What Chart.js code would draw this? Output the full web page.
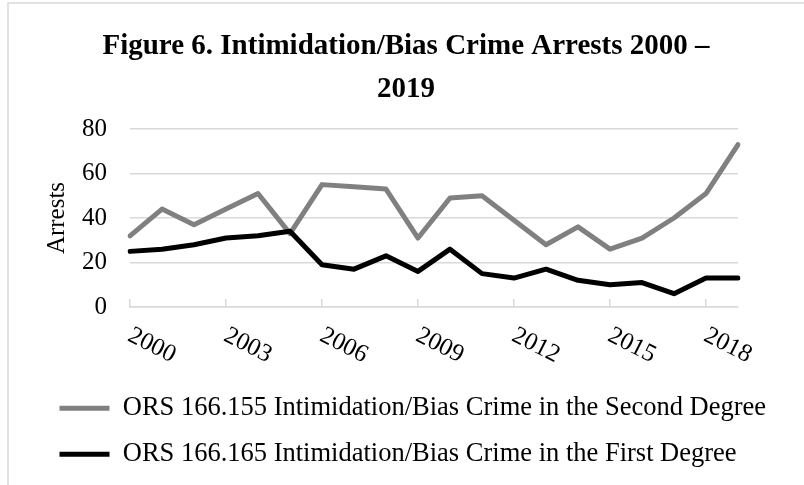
<!DOCTYPE html>
<html>
<head>
<meta charset="utf-8">
<script src="https://cdn.jsdelivr.net/npm/chart.js@4/dist/chart.umd.min.js"></script>
<style>
  body { margin: 0; background: #fff; }
</style>
</head>
<body>
<canvas id="chart" width="804" height="485"></canvas>
<script>
const years = ['2000','2001','2002','2003','2004','2005','2006','2007','2008','2009',
               '2010','2011','2012','2013','2014','2015','2016','2017','2018','2019']
const secondDegree = [32,44,37,44,51,33,55,54,53,31,49,50,39,28,36,26,31,40,51,73]
const firstDegree = [25,26,28,31,32,34,19,17,23,16,26,15,13,17,12,10,11,6,13,13]
const yTicks = [0, 20, 40, 60, 80]

const serif = "'Liberation Serif', 'Times New Roman', serif"
Chart.defaults.color = '#000'
Chart.defaults.font.family = serif

// frame + rotated year labels
const extras = {
  id: 'extras',
  beforeDraw(chart) {
    const ctx = chart.ctx
    ctx.save()
    ctx.fillStyle = '#fff'
    ctx.fillRect(0, 0, chart.width, chart.height)
    ctx.strokeStyle = '#d9d9d9'
    ctx.lineWidth = 1.5
    ctx.beginPath()
    ctx.moveTo(8, chart.height)
    ctx.lineTo(8, 3)
    ctx.lineTo(chart.width, 3)
    ctx.stroke()
    ctx.restore()
  },
  afterDraw(chart) {
    const ctx = chart.ctx
    const xs = chart.scales.x
    ctx.save()
    ctx.font = '25px ' + serif
    ctx.fillStyle = '#000'
    ctx.textAlign = 'left'
    ctx.textBaseline = 'alphabetic'
    years.forEach((y, i) => {
      if (i % 3) return
      const px = xs.getPixelForValue(i)
      ctx.save()
      ctx.translate(px - 3.5, chart.chartArea.bottom + 33)
      ctx.rotate(27 * Math.PI / 180)
      ctx.fillText(y, 0, 0)
      ctx.restore()
    })
    ctx.restore()
  }
}

new Chart(document.getElementById('chart'), {
  type: 'line',
  data: {
    labels: years,
    datasets: [
      {
        label: 'ORS 166.155 Intimidation/Bias Crime in the Second Degree',
        data: secondDegree,
        borderColor: '#808080',
        backgroundColor: '#808080',
        borderWidth: 5,
        order: 1
      },
      {
        label: 'ORS 166.165 Intimidation/Bias Crime in the First Degree',
        data: firstDegree,
        borderColor: '#000',
        backgroundColor: '#000',
        borderWidth: 5,
        order: 0
      }
    ]
  },
  options: {
    responsive: false,
    animation: false,
    layout: { padding: { left: 40, right: 32, top: 0, bottom: 7.5 } },
    elements: {
      point: { radius: 0, hoverRadius: 0 },
      line: { tension: 0, borderJoinStyle: 'round', borderCapStyle: 'round' }
    },
    scales: {
      x: {
        grid: {
          drawOnChartArea: false,
          drawTicks: true,
          tickLength: -8,
          lineWidth: 1.5,
          color: (c) => (c.index % 3 === 0 ? '#d9d9d9' : 'rgba(0,0,0,0)')
        },
        border: { display: true, color: '#d9d9d9', width: 1.5 },
        ticks: { display: false, autoSkip: false },
        afterFit(s) { s.height = 68.5 }
      },
      y: {
        min: 0,
        max: 80,
        afterBuildTicks(s) { s.ticks = yTicks.map(v => ({ value: v })) },
        grid: { color: '#d9d9d9', lineWidth: 1.5, drawTicks: false },
        border: { display: false },
        ticks: { padding: 23, font: { size: 25, family: serif }, color: '#000' },
        title: {
          display: true,
          text: 'Arrests',
          font: { size: 25, family: serif },
          color: '#000',
          padding: { top: 2, bottom: 0 }
        },
        afterFit(s) { s.width = 90 }
      },
      yRight: {
        position: 'right',
        grid: { display: false },
        border: { display: false },
        ticks: { display: false },
        afterFit(s) { s.width = 34 }
      }
    },
    plugins: {
      title: {
        display: true,
        text: ['Figure 6. Intimidation/Bias Crime Arrests 2000 \u2013', '2019'],
        font: { size: 29, weight: 'bold', family: serif, lineHeight: 43 / 29 },
        color: '#000',
        padding: { top: 25.5, bottom: 17.5 }
      },
      legend: {
        position: 'bottom',
        align: 'start',
        labels: {
          usePointStyle: true,
          pointStyle: 'line',
          pointStyleWidth: 50,
          padding: 19.5,
          color: '#000',
          font: { size: 26.5, family: serif },
          sort: (a, b) => a.datasetIndex - b.datasetIndex
        }
      },
      tooltip: { enabled: false }
    }
  },
  plugins: [extras]
})
</script>
</body>
</html>
